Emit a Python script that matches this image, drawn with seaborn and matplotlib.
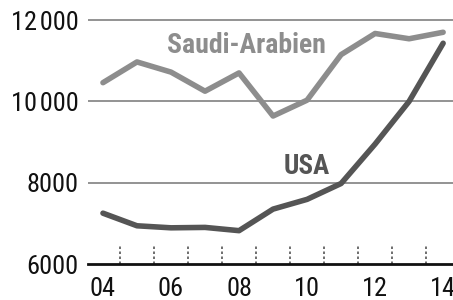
import pandas as pd
import matplotlib.pyplot as plt
import seaborn as sns

sns.set_style('white')
plt.rcParams['font.family'] = ['Roboto Condensed', 'Barlow Condensed',
                               'Sofia Sans Condensed', 'DejaVu Sans']

years = [4, 5, 6, 7, 8, 9, 10, 11, 12, 13, 14]
saudi = [10460, 10970, 10720, 10250, 10700, 9640, 10030, 11150, 11670, 11540, 11700]
usa = [7250, 6940, 6890, 6900, 6820, 7350, 7590, 7980, 8950, 10000, 11430]
countries = ['Saudi-Arabien', 'USA']
colors = {'Saudi-Arabien': '#8d8d8d', 'USA': '#555555'}

yticks = [6000, 8000, 10000, 12000]
ytick_labels = ['6000', '8000', '10\u200a000', '12\u200a000']
xticks = [4, 6, 8, 10, 12, 14]
xtick_labels = ['04', '06', '08', '10', '12', '14']

df = pd.DataFrame({
    'year': years * 2,
    'value': saudi + usa,
    'country': [countries[0]] * len(years) + [countries[1]] * len(years),
})

fig = plt.figure(figsize=(4.53, 3.0), dpi=100)
ax = fig.add_axes([88 / 453, 36 / 300, 365 / 453, 248 / 300])

for y in yticks[1:]:
    ax.axhline(y, color='#8a8a8a', lw=1.3, zorder=0)

# dotted year separators along the bottom
ax.vlines([y + 0.5 for y in years[:-1]], 6000, 6440, colors='#555555',
          linestyles=(0, (1.5, 1.5)), lw=1.2, zorder=1)

sns.lineplot(data=df, x='year', y='value', hue='country', palette=colors,
             lw=4, legend=False, ax=ax, zorder=3)

ax.text(8.21, 11190, 'Saudi-Arabien', color='#8d8d8d', fontsize=20,
        fontweight='bold', ha='center', va='baseline')
ax.text(10.0, 8220, 'USA', color='#555555', fontsize=19.5,
        fontweight='bold', ha='center', va='baseline')

ax.set_xlim(3.56, 14.29)
ax.set_ylim(6000, 12100)
ax.set_xticks(xticks)
ax.set_xticklabels(xtick_labels)
ax.set_yticks(yticks)
ax.set_yticklabels(ytick_labels)
ax.tick_params(axis='both', length=0, labelsize=19, colors='#111111')
ax.tick_params(axis='y', pad=7)
ax.tick_params(axis='x', pad=9)
ax.set_xlabel('')
ax.set_ylabel('')

sns.despine(ax=ax, left=True, top=True, right=True)
ax.spines['bottom'].set_color('#111111')
ax.spines['bottom'].set_linewidth(2)

fig.savefig('out.png', dpi=100)
